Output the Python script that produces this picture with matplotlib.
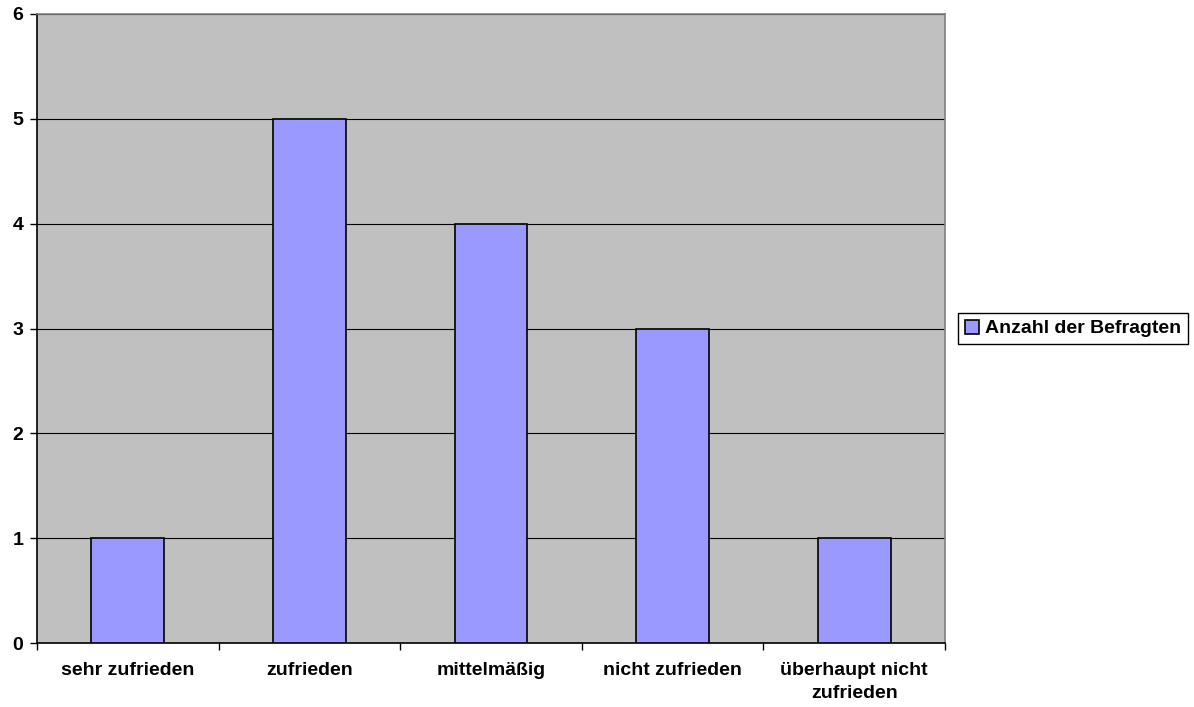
import numpy as np
import matplotlib.pyplot as plt

plt.rcParams['font.family'] = ['Liberation Sans', 'DejaVu Sans']

categories = ["sehr zufrieden", "zufrieden", "mittelmäßig", "nicht zufrieden", "überhaupt nicht\nzufrieden"]
values = [1, 5, 4, 3, 1]
series_name = "Anzahl der Befragten"

fig = plt.figure(figsize=(11.94, 7.07), dpi=100)
ax = fig.add_axes([0.031, 0.0905, 0.7605, 0.8897])
ax.set_facecolor('#C0C0C0')

x = np.arange(len(categories)) + 0.5
ax.bar(x, values, width=0.4, color='#9999FF', edgecolor='black', linewidth=1.2,
       label=series_name, zorder=3)

ax.set_xlim(0, len(categories))
ax.set_ylim(0, 6)
ax.set_yticks(range(0, 7))
ax.yaxis.grid(True, color='black', linewidth=0.8, zorder=1)
ax.set_axisbelow(True)

# category labels sit between boundary ticks
ax.set_xticks(np.arange(len(categories) + 1))
ax.set_xticklabels([])
ax.set_xticks(x, minor=True)
ax.set_xticklabels(categories, minor=True, fontsize=14, fontweight='bold',
                   linespacing=1.45)
ax.tick_params(axis='x', which='minor', length=0, pad=14)
ax.tick_params(axis='x', which='major', length=5, width=1, color='black')
ax.tick_params(axis='y', length=5, width=1, labelsize=14, pad=5)
for lbl in ax.get_yticklabels():
    lbl.set_fontweight('bold')

for side in ['top', 'right']:
    ax.spines[side].set_color('#808080')
    ax.spines[side].set_linewidth(1.2)
for side in ['left', 'bottom']:
    ax.spines[side].set_color('black')
    ax.spines[side].set_linewidth(1.2)

leg = ax.legend(loc='center left', bbox_to_anchor=(1.014, 0.5), frameon=True,
                fancybox=False, edgecolor='black', framealpha=1,
                handlelength=0.75, handleheight=0.75, handletextpad=0.3,
                borderpad=0.35, borderaxespad=0,
                prop={'size': 14, 'weight': 'bold'})
leg.get_frame().set_linewidth(1.0)

fig.savefig('out.png', dpi=100)
